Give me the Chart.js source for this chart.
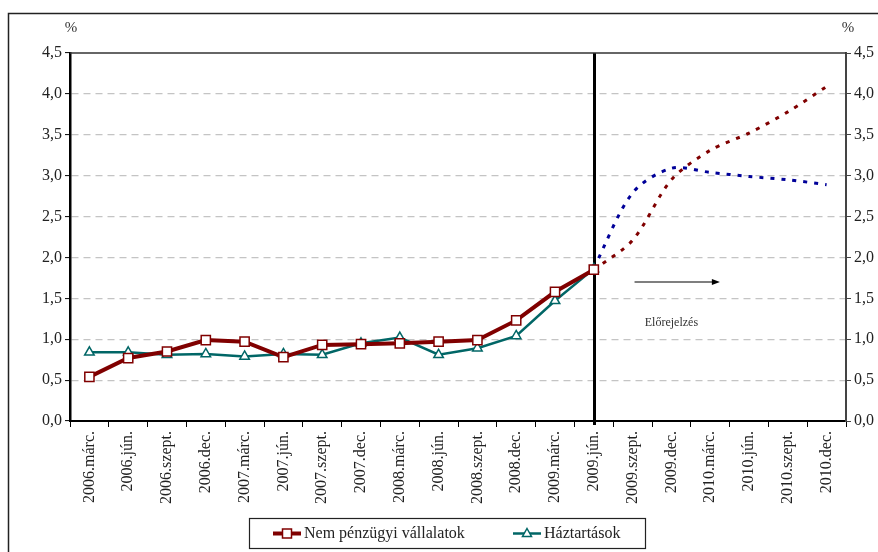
<!DOCTYPE html>
<html>
<head>
<meta charset="utf-8">
<script src="https://cdn.jsdelivr.net/npm/chart.js@4"></script>
<style>
  html, body { margin: 0; padding: 0; background: #fff; }
  #wrap { width: 878px; height: 552px; }
</style>
</head>
<body>
<div id="wrap"><canvas id="chart" width="878" height="552"></canvas></div>
<script>
// negyedévek
const labels = ['2006.márc.', '2006.jún.', '2006.szept.', '2006.dec.',
                '2007.márc.', '2007.jún.', '2007.szept.', '2007.dec.',
                '2008.márc.', '2008.jún.', '2008.szept.', '2008.dec.',
                '2009.márc.', '2009.jún.', '2009.szept.', '2009.dec.',
                '2010.márc.', '2010.jún.', '2010.szept.', '2010.dec.'];

// tény adatok (%)
const vallalatok = [0.54, 0.77, 0.85, 0.99, 0.97, 0.78, 0.93, 0.94, 0.95, 0.97, 0.99, 1.23, 1.58, 1.85,
                    null, null, null, null, null, null];
const haztartasok = [0.84, 0.84, 0.81, 0.82, 0.79, 0.82, 0.81, 0.95, 1.02, 0.81, 0.89, 1.04, 1.47, 1.86,
                     null, null, null, null, null, null];

// előrejelzés (%)
const vallalatokElore = [null, null, null, null, null, null, null, null, null, null, null, null, null,
                         1.85, 2.21, 2.95, 3.31, 3.52, 3.78, 4.09];
const haztartasokElore = [null, null, null, null, null, null, null, null, null, null, null, null, null,
                          1.87, 2.79, 3.09, 3.04, 2.99, 2.95, 2.89];

const yTicks = [0, 0.5, 1, 1.5, 2, 2.5, 3, 3.5, 4, 4.5];

const FONT = 'Liberation Serif';
const RED = '#800000';
const TEAL = '#006666';
const NAVY = '#000099';

function fmt(v) {
    return v.toFixed(1).replace('.', ',');
}

// keret, függőleges vonal, nyíl, feliratok, jelmagyarázat
const extras = {
    id: 'extras',
    beforeDatasetsDraw(chart) {
        const {ctx, chartArea: a, scales: {x}} = chart;
        const px = Math.round(x.getPixelForValue(13)) + 0.5;
        ctx.save();
        ctx.strokeStyle = '#000';
        ctx.lineWidth = 3;
        ctx.beginPath();
        ctx.moveTo(px, a.top);
        ctx.lineTo(px, a.bottom + 4);
        ctx.stroke();
        ctx.restore();
    },
    afterDraw(chart) {
        const {ctx, chartArea: a, scales: {x, y}} = chart;
        ctx.save();

        // külső keret
        ctx.strokeStyle = '#222';
        ctx.lineWidth = 1.5;
        ctx.beginPath();
        ctx.moveTo(8.5, 552);
        ctx.lineTo(8.5, 13.5);
        ctx.lineTo(878, 13.5);
        ctx.stroke();

        // felső szegély
        ctx.strokeStyle = '#333';
        ctx.lineWidth = 1.5;
        ctx.beginPath();
        ctx.moveTo(a.left, a.top);
        ctx.lineTo(a.right, a.top);
        ctx.stroke();

        // mértékegység
        ctx.fillStyle = '#333';
        ctx.font = '15px "' + FONT + '"';
        ctx.textAlign = 'center';
        ctx.textBaseline = 'middle';
        ctx.fillText('%', 71, 28);
        ctx.fillText('%', 848, 28);

        // nyíl
        const ay = y.getPixelForValue(1.7);
        const ax1 = x.getPixelForValue(14.05);
        const ax2 = x.getPixelForValue(16.25);
        ctx.strokeStyle = '#000';
        ctx.lineWidth = 1.2;
        ctx.beginPath();
        ctx.moveTo(ax1, ay);
        ctx.lineTo(ax2 - 6, ay);
        ctx.stroke();
        ctx.fillStyle = '#000';
        ctx.beginPath();
        ctx.moveTo(ax2, ay);
        ctx.lineTo(ax2 - 8, ay - 3);
        ctx.lineTo(ax2 - 8, ay + 3);
        ctx.closePath();
        ctx.fill();

        ctx.fillStyle = '#333';
        ctx.font = '12px "' + FONT + '"';
        ctx.fillText('Előrejelzés', x.getPixelForValue(15), y.getPixelForValue(1.2));

        // jelmagyarázat
        ctx.strokeStyle = '#222';
        ctx.lineWidth = 1.2;
        ctx.strokeRect(249.5, 518.5, 396, 30);
        const ly = 533.5;
        const items = [
            {ds: chart.data.datasets[0], x0: 273},
            {ds: chart.data.datasets[1], x0: 513}
        ];
        items.forEach(it => {
            const ds = it.ds;
            ctx.strokeStyle = ds.borderColor;
            ctx.lineWidth = ds.borderWidth;
            ctx.beginPath();
            ctx.moveTo(it.x0, ly);
            ctx.lineTo(it.x0 + 28, ly);
            ctx.stroke();
            const cx = it.x0 + 14;
            ctx.fillStyle = '#fff';
            ctx.strokeStyle = ds.pointBorderColor;
            ctx.lineWidth = 1.5;
            ctx.beginPath();
            if (ds.pointStyle === 'rect') {
                ctx.rect(cx - 4.5, ly - 4.5, 9, 9);
            } else {
                ctx.moveTo(cx, ly - 5);
                ctx.lineTo(cx + 4.5, ly + 3);
                ctx.lineTo(cx - 4.5, ly + 3);
                ctx.closePath();
            }
            ctx.fill();
            ctx.stroke();
            ctx.fillStyle = '#222';
            ctx.font = '16px "' + FONT + '"';
            ctx.textAlign = 'left';
            ctx.fillText(ds.label, it.x0 + 31, ly);
        });

        ctx.restore();
    }
};

const ctx = document.getElementById('chart').getContext('2d');
const chart = new Chart(ctx, {
    type: 'line',
    data: {
        labels: labels,
        datasets: [{
            label: 'Nem pénzügyi vállalatok',
            data: vallalatok,
            borderColor: RED,
            borderWidth: 4,
            pointStyle: 'rect',
            pointRadius: 6.5,
            pointBackgroundColor: '#fff',
            pointBorderColor: RED,
            pointBorderWidth: 1.5,
            tension: 0
        }, {
            label: 'Háztartások',
            data: haztartasok,
            borderColor: TEAL,
            borderWidth: 2.5,
            pointStyle: 'triangle',
            pointRadius: 5.5,
            pointBackgroundColor: '#fff',
            pointBorderColor: TEAL,
            pointBorderWidth: 1.5,
            tension: 0
        }, {
            label: 'Nem pénzügyi vállalatok előrejelzés',
            data: vallalatokElore,
            borderColor: RED,
            borderWidth: 3,
            borderDash: [4, 7],
            pointRadius: 0,
            tension: 0.3
        }, {
            label: 'Háztartások előrejelzés',
            data: haztartasokElore,
            borderColor: NAVY,
            borderWidth: 3,
            borderDash: [4, 7],
            pointRadius: 0,
            tension: 0.3
        }]
    },
    options: {
        responsive: false,
        animation: false,
        layout: { padding: { top: 53, bottom: 0, left: 0, right: 0 } },
        plugins: {
            legend: { display: false },
            tooltip: { enabled: false }
        },
        scales: {
            x: {
                offset: true,
                grid: {
                    offset: true,
                    drawOnChartArea: false,
                    tickLength: 6,
                    tickColor: '#000',
                    tickWidth: 1
                },
                border: { color: '#000', width: 2 },
                ticks: {
                    autoSkip: false,
                    maxRotation: 90,
                    minRotation: 90,
                    padding: 4,
                    color: '#222',
                    font: { family: FONT, size: 16 }
                },
                afterFit(scale) { scale.height = 131; }
            },
            y: {
                position: 'left',
                min: 0,
                max: 4.5,
                afterBuildTicks(scale) { scale.ticks = yTicks.map(v => ({value: v})); },
                grid: {
                    color: c => (c.tick && (c.tick.value === 0 || c.tick.value === 4.5)) ? 'rgba(0,0,0,0)' : '#c4c4c4',
                    lineWidth: 1.2,
                    tickColor: '#000',
                    tickLength: 5,
                    tickWidth: 1
                },
                border: { color: '#000', width: 2.5, dash: [7, 5] },
                ticks: {
                    padding: 3,
                    color: '#222',
                    font: { family: FONT, size: 16 },
                    callback: v => fmt(v)
                },
                afterFit(scale) { scale.width = 70; }
            },
            y2: {
                position: 'right',
                min: 0,
                max: 4.5,
                afterBuildTicks(scale) { scale.ticks = yTicks.map(v => ({value: v})); },
                grid: {
                    drawOnChartArea: false,
                    tickColor: '#444',
                    tickLength: 5,
                    tickWidth: 1
                },
                border: { color: '#444', width: 2 },
                ticks: {
                    padding: 3,
                    color: '#222',
                    font: { family: FONT, size: 16 },
                    callback: v => fmt(v)
                },
                afterFit(scale) { scale.width = 32; }
            }
        }
    },
    plugins: [extras]
});
</script>
</body>
</html>
